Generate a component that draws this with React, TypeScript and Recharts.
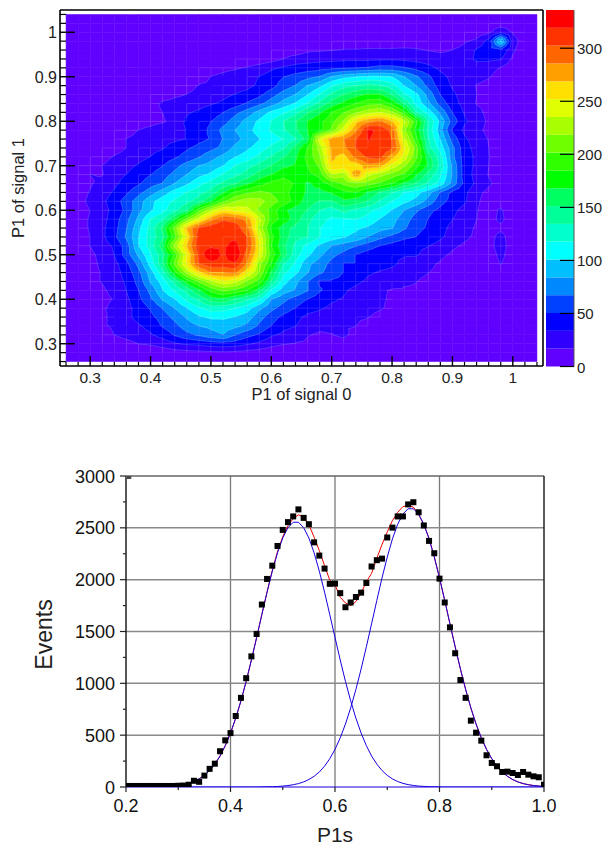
import { Bar, BarChart, ComposedChart, Line, ReferenceLine, Scatter, ScatterChart, XAxis, YAxis } from "recharts";

const FONT = "'Liberation Sans', Arial, sans-serif";

// top panel: bin centres, same for both axes
const gridX = [0.26, 0.28, 0.3, 0.32, 0.34, 0.36, 0.38, 0.4, 0.42, 0.44, 0.46, 0.48, 0.5, 0.52, 0.54, 0.56, 0.58, 0.6, 0.62, 0.64, 0.66, 0.68, 0.7, 0.72, 0.74, 0.76, 0.78, 0.8, 0.82, 0.84, 0.86, 0.88, 0.9, 0.92, 0.94, 0.96, 0.98, 1, 1.02, 1.04];
const gridY = [1.04, 1.02, 1, 0.98, 0.96, 0.94, 0.92, 0.9, 0.88, 0.86, 0.84, 0.82, 0.8, 0.78, 0.76, 0.74, 0.72, 0.7, 0.68, 0.66, 0.64, 0.62, 0.6, 0.58, 0.56, 0.54, 0.52, 0.5, 0.48, 0.46, 0.44, 0.42, 0.4, 0.38, 0.36, 0.34, 0.32, 0.3, 0.28, 0.26];
const heatLabels = [0.3, 0.4, 0.5, 0.6, 0.7, 0.8, 0.9, 1];

// counts per bin, one row per gridY value
const densityRows = [
  [1,1,1,1,2,2,2,2,2,2,2,3,3,2,2,2,3,3,3,3,3,3,3,2,2,2,2,3,3,3,3,2,2,2,2,2,2,2,1,1],
  [1,1,1,1,2,2,2,3,2,4,3,3,3,3,3,4,4,4,3,3,3,3,4,3,3,3,3,3,4,4,4,3,3,3,4,5,6,5,2,1],
  [1,1,2,2,2,3,3,3,3,3,4,3,4,4,4,3,4,4,4,3,4,4,5,5,5,5,5,5,5,5,5,5,5,5,8,13,32,15,3,1],
  [1,1,2,2,3,3,3,3,3,3,3,4,5,4,4,4,5,5,5,5,6,6,6,6,6,6,7,7,7,7,7,7,7,15,20,40,105,26,5,1],
  [1,2,2,2,3,3,3,4,4,4,5,5,5,4,4,5,5,6,6,7,14,15,16,18,18,19,19,19,20,19,16,14,17,22,36,42,48,20,4,1],
  [1,2,2,2,3,3,3,4,4,5,5,5,6,6,6,7,8,10,17,24,26,28,29,30,30,30,31,31,30,28,26,24,22,22,38,38,35,14,3,1],
  [1,2,2,3,3,3,4,4,5,6,7,8,11,13,15,18,22,30,36,40,42,44,46,48,50,52,56,56,52,45,38,30,24,22,22,22,16,6,3,1],
  [1,2,2,3,3,4,4,5,5,6,7,8,17,20,24,28,34,42,50,56,62,68,85,95,100,104,104,100,84,70,54,38,30,26,22,18,10,4,2,1],
  [1,2,2,3,3,4,4,5,6,7,9,18,20,25,28,30,36,44,58,68,84,96,116,128,134,140,135,125,100,84,62,42,32,26,16,12,5,3,2,1],
  [1,2,3,3,4,4,5,5,7,14,17,22,26,30,34,38,46,60,74,84,100,118,138,152,162,170,170,150,120,105,78,50,36,28,17,12,4,3,2,1],
  [1,2,3,3,4,5,5,9,20,22,24,28,32,36,42,52,62,76,90,102,118,138,158,172,185,195,198,180,150,112,88,60,40,28,16,12,3,3,2,1],
  [1,2,3,4,4,5,6,12,17,30,32,36,42,50,62,74,90,104,114,128,150,165,185,200,215,228,235,222,190,135,110,80,50,32,22,12,4,3,2,1],
  [1,2,3,4,5,6,8,10,14,24,36,42,50,60,75,90,104,118,134,150,168,180,195,220,262,280,288,270,240,190,135,96,60,36,26,14,4,3,2,1],
  [2,3,3,5,8,12,17,22,30,32,34,40,55,72,84,95,108,120,132,148,168,178,205,245,282,322,316,298,222,178,130,90,48,30,22,12,3,2,2,1],
  [2,3,3,5,7,17,20,24,28,30,34,45,52,68,78,90,100,108,118,132,160,245,278,285,302,320,316,302,240,190,135,100,60,36,26,16,4,2,2,1],
  [2,3,3,6,10,17,24,28,32,42,48,56,62,72,88,98,108,122,132,158,185,225,275,282,303,316,316,305,255,210,140,110,72,40,28,17,4,2,1,1],
  [2,3,8,12,18,22,28,34,42,48,56,66,78,88,100,108,122,135,150,165,190,215,272,262,292,306,310,275,245,205,160,125,72,42,30,18,4,2,1,1],
  [2,4,12,17,22,28,36,42,50,62,74,84,90,100,118,128,140,152,165,170,185,205,266,262,255,280,275,245,222,190,165,130,80,42,30,17,5,2,1,1],
  [2,3,17,16,28,34,42,50,60,72,84,96,104,120,130,142,158,168,178,172,180,190,235,225,285,240,225,210,198,170,145,120,82,42,28,16,5,2,1,1],
  [3,8,15,22,30,40,48,60,68,84,98,112,124,138,150,165,178,190,195,182,165,175,190,205,215,210,198,185,165,150,132,110,78,45,30,20,8,3,1,1],
  [4,10,18,26,36,48,62,76,92,108,118,128,140,165,188,198,205,200,190,178,165,162,170,180,185,165,150,135,117,108,90,66,46,38,22,12,8,3,1,1],
  [5,12,20,30,42,58,76,96,110,120,130,142,165,198,218,228,225,210,195,178,160,150,150,165,160,150,132,117,105,95,78,56,44,36,20,8,5,2,1,1],
  [4,10,17,28,38,55,78,98,112,130,148,195,230,255,245,240,215,195,172,160,150,135,125,140,130,122,112,100,84,70,55,46,38,28,18,8,20,2,1,1],
  [4,12,18,28,42,62,88,118,132,165,205,245,280,300,295,280,240,195,178,160,140,122,115,116,118,112,100,90,75,60,50,40,34,24,17,8,22,3,1,1],
  [4,12,18,30,44,66,96,124,155,208,270,305,315,316,314,290,232,180,160,145,135,118,112,108,104,98,90,85,70,55,48,38,30,22,15,6,12,2,1,1],
  [4,10,17,30,46,70,100,125,145,195,255,312,316,316,316,303,250,190,160,140,135,118,110,102,96,84,72,62,54,50,44,36,28,20,14,8,25,3,1,1],
  [4,9,17,26,36,58,100,125,160,225,270,314,316,316,325,305,255,185,155,130,112,98,84,76,68,58,50,44,40,36,34,28,20,14,10,8,28,3,1,1],
  [5,8,13,22,34,58,88,115,145,190,250,308,336,316,336,295,250,195,160,125,105,88,72,62,50,42,38,36,35,35,28,20,14,8,6,6,22,6,3,2],
  [4,7,12,20,28,46,72,108,148,205,255,303,314,314,318,285,225,185,135,115,88,76,62,50,50,44,40,36,30,26,20,15,10,7,5,5,18,5,2,1],
  [3,6,12,18,26,40,62,92,128,180,225,262,285,285,290,255,218,165,122,105,85,70,60,50,44,36,32,30,28,20,17,14,8,5,4,4,6,3,2,1],
  [3,6,11,18,26,36,56,86,108,140,175,205,230,248,240,215,195,150,108,88,68,48,48,46,38,30,26,22,18,17,14,8,5,3,3,3,3,2,1,1],
  [2,5,9,14,22,34,50,72,100,120,140,165,190,205,198,185,160,115,92,82,68,52,44,36,28,22,18,16,16,16,15,5,3,2,2,2,2,2,1,1],
  [2,5,8,12,18,30,46,64,86,100,122,138,160,165,150,136,120,84,72,60,50,42,36,32,28,24,20,14,8,5,3,3,2,2,2,2,2,1,1,1],
  [1,3,6,14,22,28,40,52,68,84,100,115,125,124,118,108,88,72,60,50,40,36,30,28,24,24,20,10,5,3,2,2,2,2,2,2,2,1,1,1],
  [1,2,5,10,28,30,38,46,58,72,86,98,104,104,100,92,74,58,46,38,30,26,22,22,20,18,8,5,3,2,2,2,2,2,2,2,2,1,1,1],
  [1,2,3,14,20,26,32,38,52,62,76,84,88,92,88,80,64,50,38,34,26,22,22,18,17,8,4,2,2,2,2,2,2,2,2,1,1,1,1,1],
  [1,1,2,6,17,24,28,32,40,52,62,70,78,84,68,56,48,36,30,26,18,14,16,22,8,3,2,2,2,2,2,2,1,1,1,1,1,1,1,1],
  [1,1,1,2,5,10,17,19,24,32,36,38,42,44,42,36,30,22,18,16,14,8,6,4,3,2,2,2,2,1,1,1,1,1,1,1,1,1,1,1],
  [1,1,1,1,2,3,4,5,7,9,11,12,13,14,13,11,9,7,5,4,3,3,2,2,2,2,2,1,1,1,1,1,1,1,1,1,1,1,1,1],
  [1,1,1,1,1,1,2,2,3,3,4,4,4,4,4,3,3,3,2,2,2,2,2,1,1,1,1,1,1,1,1,1,1,1,1,1,1,1,1,1],
];

// colour scale, lowest band first
const bandColors = ["#6000ff", "#3000ff", "#0000ff", "#0040ff", "#0088ff", "#00bfff", "#00ffff", "#00ffcc", "#00ff99", "#00ff60", "#00ff00", "#30ff00", "#70ff00", "#a8ff00", "#e0ff00", "#ffe000", "#ffa000", "#ff6600", "#ff3300", "#ff0000"];
const bandWidth = 16.8;
const scaleTicks = [0, 50, 100, 150, 200, 250, 300];

// bottom panel
const p1s = [0.2, 0.21, 0.22, 0.23, 0.24, 0.25, 0.26, 0.27, 0.28, 0.29, 0.3, 0.31, 0.32, 0.33, 0.34, 0.35, 0.36, 0.37, 0.38, 0.39, 0.4, 0.41, 0.42, 0.43, 0.44, 0.45, 0.46, 0.47, 0.48, 0.49, 0.5, 0.51, 0.52, 0.53, 0.54, 0.55, 0.56, 0.57, 0.58, 0.59, 0.6, 0.61, 0.62, 0.63, 0.64, 0.65, 0.66, 0.67, 0.68, 0.69, 0.7, 0.71, 0.72, 0.73, 0.74, 0.75, 0.76, 0.77, 0.78, 0.79, 0.8, 0.81, 0.82, 0.83, 0.84, 0.85, 0.86, 0.87, 0.88, 0.89, 0.9, 0.91, 0.92, 0.93, 0.94, 0.95, 0.96, 0.97, 0.98, 0.99, 1];
const events = [10, 10, 10, 10, 10, 10, 10, 10, 10, 10, 12, 14, 22, 60, 50, 110, 175, 225, 345, 450, 520, 685, 860, 1050, 1260, 1476, 1760, 2007, 2135, 2325, 2480, 2555, 2610, 2678, 2596, 2535, 2360, 2232, 2107, 1960, 1962, 1870, 1734, 1780, 1833, 1875, 1968, 2127, 2188, 2203, 2407, 2502, 2610, 2610, 2726, 2747, 2650, 2523, 2374, 2255, 2010, 1780, 1540, 1290, 1032, 860, 640, 524, 447, 306, 232, 200, 145, 148, 135, 116, 145, 119, 103, 94, 22];
const fitLow = [0, 0, 0, 0, 0, 1, 2, 3, 6, 9, 15, 23, 35, 53, 78, 112, 159, 221, 299, 399, 520, 664, 831, 1019, 1225, 1442, 1663, 1880, 2082, 2259, 2402, 2502, 2554, 2554, 2502, 2402, 2259, 2082, 1880, 1663, 1442, 1225, 1019, 831, 664, 520, 399, 299, 221, 159, 112, 78, 53, 35, 23, 15, 9, 6, 3, 2, 1, 0, 0, 0, 0, 0, 0, 0, 0, 0, 0, 0, 0, 0, 0, 0, 0, 0, 0, 0, 0];
const fitHigh = [0, 0, 0, 0, 0, 0, 0, 0, 0, 0, 0, 0, 0, 0, 0, 0, 0, 0, 0, 0, 0, 0, 0, 0, 0, 0, 1, 2, 3, 5, 9, 14, 22, 33, 49, 72, 103, 145, 201, 273, 363, 474, 607, 763, 941, 1139, 1352, 1574, 1799, 2017, 2218, 2394, 2535, 2633, 2684, 2684, 2633, 2535, 2394, 2218, 2017, 1799, 1574, 1352, 1139, 941, 763, 607, 474, 363, 273, 201, 145, 103, 72, 49, 33, 22, 14, 9, 5];
const fitTotal = [0, 0, 0, 0, 0, 1, 2, 3, 6, 9, 15, 23, 35, 53, 78, 112, 159, 221, 299, 399, 520, 664, 831, 1019, 1225, 1442, 1665, 1882, 2090, 2270, 2415, 2520, 2590, 2625, 2605, 2530, 2410, 2280, 2135, 1995, 1950, 1830, 1775, 1750, 1788, 1870, 1980, 2060, 2205, 2340, 2460, 2570, 2650, 2705, 2715, 2700, 2630, 2530, 2400, 2220, 2018, 1800, 1574, 1352, 1139, 941, 763, 607, 474, 363, 273, 201, 145, 103, 72, 49, 33, 22, 14, 9, 5];
const p1Ticks = [0.2, 0.3, 0.4, 0.5, 0.6, 0.7, 0.8, 0.9, 1];
const p1Labels = [0.2, 0.4, 0.6, 0.8, 1];
const eventTicks = [0, 250, 500, 750, 1000, 1250, 1500, 1750, 2000, 2250, 2500, 2750, 3000];
const eventLabels = [0, 500, 1000, 1500, 2000, 2500, 3000];

const fitRows = p1s.map((x, i) => ({ x, events: events[i], fitLow: fitLow[i], fitHigh: fitHigh[i], fitTotal: fitTotal[i] }));

const HEAT_W = 483;
const HEAT_H = 356;
const stepX = (HEAT_W / 0.8) * 0.02;
const stepY = (HEAT_H / 0.8) * 0.02;

const cells = densityRows.slice(0, -1).flatMap((row, i) =>
  row.slice(0, -1).map((v, j) => ({
    x: gridX[j],
    y: gridY[i],
    tl: v,
    tr: row[j + 1],
    bl: densityRows[i + 1][j],
    br: densityRows[i + 1][j + 1],
  }))
);

// four triangles around the cell centre, so a lone peak comes out as a diamond
function cellTriangles(cx: number, cy: number, c: any) {
  const a = { x: cx, y: cy, v: c.tl };
  const b = { x: cx + stepX, y: cy, v: c.tr };
  const d = { x: cx + stepX, y: cy + stepY, v: c.br };
  const e = { x: cx, y: cy + stepY, v: c.bl };
  const m = { x: cx + stepX / 2, y: cy + stepY / 2, v: (c.tl + c.tr + c.bl + c.br) / 4 };
  return [[a, b, m], [b, d, m], [d, e, m], [e, a, m]];
}

function clipAbove(tri: any[], level: number) {
  const out: any[] = [];
  tri.forEach((p, i) => {
    const q = tri[(i + 1) % 3];
    if (p.v >= level) out.push(p);
    if (p.v >= level !== q.v >= level) {
      const t = (level - p.v) / (q.v - p.v);
      out.push({ x: p.x + (q.x - p.x) * t, y: p.y + (q.y - p.y) * t, v: level });
    }
  });
  return out;
}

const toPath = (pts: any[]) => pts.map((p, i) => `${i ? "L" : "M"}${p.x.toFixed(2)} ${p.y.toFixed(2)}`).join("") + "Z";

function DensityCell({ cx, cy, payload }: any) {
  const vals = [payload.tl, payload.tr, payload.bl, payload.br];
  const lo = Math.min(...vals);
  const hi = Math.max(...vals);
  const first = Math.min(Math.floor(lo / bandWidth), 19);
  const last = Math.min(Math.floor(hi / bandWidth), 19);
  const tris = cellTriangles(cx, cy, payload);
  const parts = [];
  for (let k = first; k <= last; k++) {
    const d = k === first
      ? `M${cx} ${cy}h${stepX}v${stepY}h${-stepX}Z`
      : tris.map((t) => clipAbove(t, k * bandWidth)).filter((p) => p.length > 2).map(toPath).join("");
    parts.push(<path key={k} d={d} fill={bandColors[k]} stroke={bandColors[k]} strokeWidth={0.5} />);
  }
  return <g>{parts}</g>;
}

// pale bin outlines and contour edges wherever a cell crosses a band
function MeshCell({ cx, cy, payload }: any) {
  const vals = [payload.tl, payload.tr, payload.bl, payload.br];
  const first = Math.floor(Math.min(...vals) / bandWidth);
  const last = Math.floor(Math.max(...vals) / bandWidth);
  if (first === last) return null;
  const segs: string[] = [];
  const tris = cellTriangles(cx, cy, payload);
  for (let k = first + 1; k <= Math.min(last, 19); k++) {
    const level = k * bandWidth;
    tris.forEach((t) => {
      const hits: any[] = [];
      t.forEach((p, i) => {
        const q = t[(i + 1) % 3];
        if (p.v >= level !== q.v >= level) {
          const s = (level - p.v) / (q.v - p.v);
          hits.push({ x: p.x + (q.x - p.x) * s, y: p.y + (q.y - p.y) * s });
        }
      });
      if (hits.length === 2) segs.push(`M${hits[0].x.toFixed(2)} ${hits[0].y.toFixed(2)}L${hits[1].x.toFixed(2)} ${hits[1].y.toFixed(2)}`);
    });
  }
  return (
    <g fill="none" stroke="#fff" strokeWidth={0.6}>
      <path d={`M${cx} ${cy + stepY}V${cy}H${cx + stepX}`} strokeOpacity={0.2} />
      <path d={segs.join("")} strokeOpacity={0.3} />
    </g>
  );
}

function heatTick(side: string) {
  return ({ x, y, payload }: any) => {
    const major = heatLabels.includes(payload.value);
    if (side === "bottom")
      return (
        <g>
          <line x1={x} x2={x} y1={y} y2={y - (major ? 10 : 4)} stroke="#000" strokeWidth={major ? 1.4 : 1.2} />
          {major && <text x={x} y={y + 16.5} textAnchor="middle" fontSize={15.5} fontFamily={FONT} fill="#222">{payload.value}</text>}
        </g>
      );
    if (side === "top") return <line x1={x} x2={x} y1={y} y2={y + (major ? 10 : 4)} stroke="#000" strokeWidth={major ? 1.4 : 1.2} />;
    return (
      <g>
        <line x1={x} x2={x + (major ? 15 : 6)} y1={y} y2={y} stroke="#000" strokeWidth={major ? 1.4 : 1.2} />
        {major && <text x={x - 3} y={y + 6} textAnchor="end" fontSize={16} fontFamily={FONT} fill="#222">{payload.value}</text>}
      </g>
    );
  };
}

const ScaleTick = ({ x, y, payload }: any) => (
  <g>
    <line x1={x - 14} x2={x} y1={y} y2={y} stroke="#000" strokeWidth={1.2} />
    <text x={x + 3} y={y + 6} fontSize={15} fontFamily={FONT} fill="#222">{payload.value}</text>
  </g>
);

const P1Tick = ({ x, y, payload }: any) => {
  const major = p1Labels.includes(payload.value);
  return (
    <g>
      <line x1={x} x2={x} y1={y} y2={y + (major ? 5 : 3)} stroke="#222" strokeWidth={1.2} />
      {major && <text x={x} y={y + 25} textAnchor="middle" fontSize={18} fontFamily={FONT} fill="#111">{payload.value.toFixed(1)}</text>}
    </g>
  );
};

const EventTick = ({ x, y, payload }: any) => {
  const major = eventLabels.includes(payload.value);
  return (
    <g>
      <line x1={x} x2={x - (major ? 6 : 3)} y1={y} y2={y} stroke="#222" strokeWidth={1.2} />
      {major && <text x={x - 11} y={y + 6.5} textAnchor="end" fontSize={18} fontFamily={FONT} fill="#111">{payload.value}</text>}
    </g>
  );
};

const InnerTopTick = ({ x, y, payload }: any) =>
  p1Labels.includes(payload.value) ? <g /> : <line x1={x} x2={x} y1={y} y2={y + 3} stroke="#444" strokeWidth={1.2} />;

const InnerRightTick = ({ x, y }: any) => <line x1={x} x2={x - 4} y1={y} y2={y} stroke="#222" strokeWidth={1.2} />;

const SquareDot = ({ cx, cy, index }: any) => <rect key={index} x={cx - 3} y={cy - 3} width={6} height={6} fill="#000" />;

const titleStyle = { fontFamily: FONT, fill: "#222" };

export default function App() {
  const heatDomain = [0.25, 1.05];
  return (
    <div style={{ position: "absolute", left: 0, top: 0, width: 605, height: 847, background: "#fff", overflow: "hidden" }}>
      <div style={{ position: "absolute", left: 0, top: 0 }}>
        <ScatterChart width={605} height={410} margin={{ top: 9, left: 59, right: 61, bottom: 43 }}>
          <Scatter data={cells} shape={<DensityCell />} isAnimationActive={false} />
          <Scatter data={cells} shape={<MeshCell />} isAnimationActive={false} />
          <XAxis
            xAxisId={0}
            dataKey="x"
            type="number"
            domain={heatDomain}
            allowDataOverflow
            ticks={gridX}
            interval={0}
            height={1}
            tickSize={0}
            tickMargin={0}
            tickLine={false}
            axisLine={{ stroke: "#000", strokeWidth: 1.6 }}
            tick={heatTick("bottom")}
            label={{ value: "P1 of signal 0", position: "bottom", offset: 21.5, fontSize: 16.5, style: titleStyle }}
          />
          <YAxis
            yAxisId={0}
            dataKey="y"
            type="number"
            domain={heatDomain}
            allowDataOverflow
            ticks={gridY}
            interval={0}
            width={1}
            tickSize={0}
            tickMargin={0}
            tickLine={false}
            axisLine={{ stroke: "#000", strokeWidth: 1.6 }}
            tick={heatTick("left")}
            label={{ value: "P1 of signal 1", position: "center", angle: -90, dx: -41, fontSize: 16.5, style: titleStyle }}
          />
          <XAxis
            xAxisId="top"
            orientation="top"
            type="number"
            domain={heatDomain}
            allowDataOverflow
            ticks={gridX}
            interval={0}
            height={1}
            tickSize={0}
            tickMargin={0}
            tickLine={false}
            axisLine={{ stroke: "#000", strokeWidth: 1.6 }}
            tick={heatTick("top")}
          />
          <YAxis
            yAxisId="right"
            orientation="right"
            type="number"
            domain={heatDomain}
            allowDataOverflow
            ticks={[]}
            width={1}
            tickLine={false}
            axisLine={{ stroke: "#000", strokeWidth: 1.6 }}
            tick={false}
          />
        </ScatterChart>
      </div>

      <div style={{ position: "absolute", left: 540, top: 0 }}>
        <BarChart
          width={65}
          height={380}
          data={[Object.fromEntries(bandColors.map((_, k) => [`band${k}`, bandWidth]))]}
          margin={{ top: 10, left: 6, right: 30, bottom: 13.5 }}
          barCategoryGap={0}
        >
          <XAxis hide />
          {bandColors.map((color, k) => (
            <Bar key={color} dataKey={`band${k}`} stackId="scale" fill={color} isAnimationActive={false} />
          ))}
          <YAxis
            orientation="right"
            type="number"
            domain={[0, 336]}
            ticks={scaleTicks}
            interval={0}
            width={1}
            tickSize={0}
            tickMargin={0}
            tickLine={false}
            axisLine={{ stroke: "#555", strokeWidth: 1 }}
            tick={<ScaleTick />}
          />
        </BarChart>
      </div>

      <div style={{ position: "absolute", left: 0, top: 440 }}>
        <ComposedChart width={605} height={407} data={fitRows} margin={{ top: 35, left: 125, right: 60, bottom: 59 }}>
          <XAxis
            dataKey="x"
            type="number"
            domain={[0.2, 1]}
            allowDataOverflow
            ticks={p1Ticks}
            interval={0}
            height={1}
            tickSize={0}
            tickMargin={0}
            tickLine={false}
            axisLine={{ stroke: "#1800e0", strokeWidth: 1.2 }}
            tick={<P1Tick />}
            label={{ value: "P1s", position: "bottom", offset: 39, fontSize: 21, style: titleStyle }}
          />
          <YAxis
            type="number"
            domain={[0, 3000]}
            allowDataOverflow
            ticks={eventTicks}
            interval={0}
            width={1}
            tickSize={0}
            tickMargin={0}
            tickLine={false}
            axisLine={{ stroke: "#111", strokeWidth: 1.4 }}
            tick={<EventTick />}
            label={{ value: "Events", position: "center", angle: -90, dx: -82, dy: 3, fontSize: 23, style: titleStyle }}
          />
          <XAxis
            xAxisId="top"
            orientation="top"
            type="number"
            domain={[0.2, 1]}
            ticks={p1Ticks}
            interval={0}
            height={1}
            tickSize={0}
            tickMargin={0}
            tickLine={false}
            axisLine={{ stroke: "#666", strokeWidth: 1.5 }}
            tick={<InnerTopTick />}
          />
          <YAxis
            yAxisId="right"
            orientation="right"
            type="number"
            domain={[0, 3000]}
            ticks={eventTicks}
            interval={0}
            width={1}
            tickSize={0}
            tickMargin={0}
            tickLine={false}
            axisLine={{ stroke: "#222", strokeWidth: 1.5 }}
            tick={<InnerRightTick />}
          />
          {p1Labels.slice(1, -1).map((v) => (
            <ReferenceLine key={v} x={v} stroke="#7a7a7a" strokeWidth={1.3} />
          ))}
          {eventLabels.slice(1, -1).map((v) => (
            <ReferenceLine key={v} y={v} stroke="#8a8a8a" strokeWidth={1.5} />
          ))}
          <Line dataKey="events" stroke="none" dot={<SquareDot />} isAnimationActive={false} />
          <Line dataKey="fitTotal" type="linear" stroke="#f00000" strokeWidth={1} dot={false} isAnimationActive={false} />
          <Line dataKey="fitLow" type="linear" stroke="#1800e0" strokeWidth={1} dot={false} isAnimationActive={false} />
          <Line dataKey="fitHigh" type="linear" stroke="#1800e0" strokeWidth={1} dot={false} isAnimationActive={false} />
        </ComposedChart>
      </div>
    </div>
  );
}
